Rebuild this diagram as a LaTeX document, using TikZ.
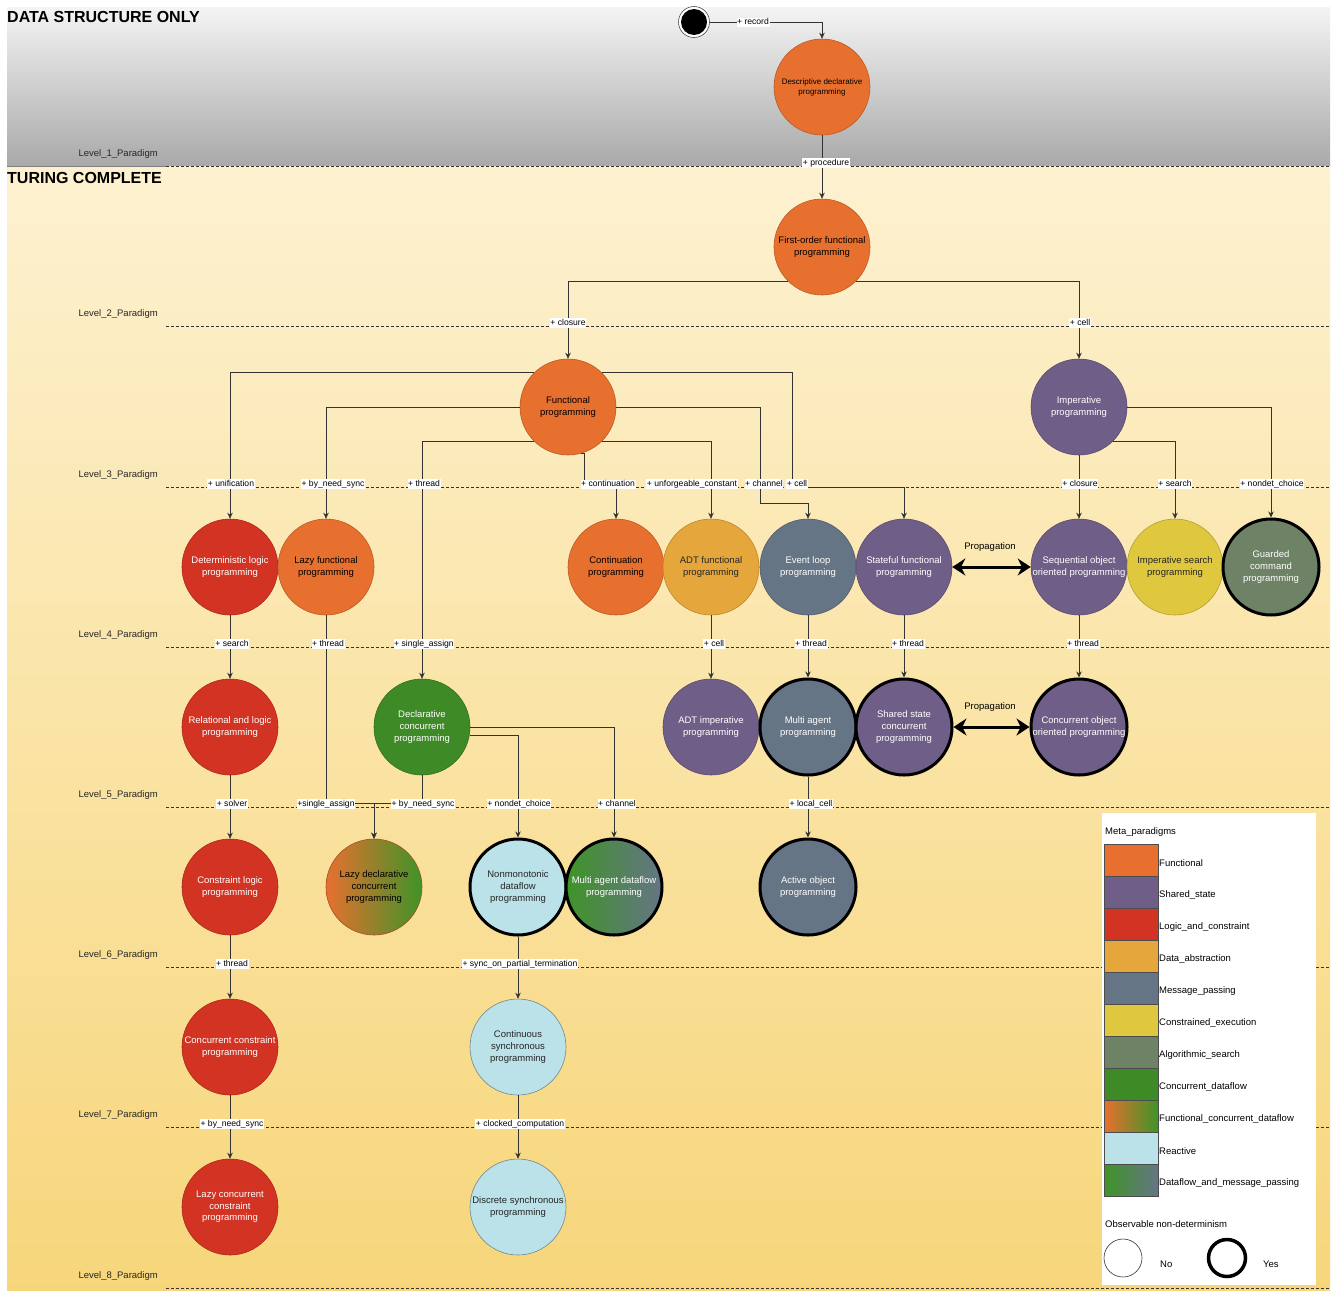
\documentclass[tikz,border=0pt]{standalone}
\usepackage{fontspec}
\setmainfont{Liberation Sans}
\usetikzlibrary{arrows.meta}
\definecolor{cfun}{HTML}{E7702F}
\definecolor{csha}{HTML}{6F5E87}
\definecolor{clog}{HTML}{D23322}
\definecolor{cdab}{HTML}{E5A73B}
\definecolor{cmsg}{HTML}{657585}
\definecolor{ccex}{HTML}{DFC83E}
\definecolor{calg}{HTML}{6E8366}
\definecolor{ccdf}{HTML}{3E8A26}
\definecolor{cgrn}{HTML}{3F9428}
\definecolor{crea}{HTML}{BAE2E8}
\definecolor{cgrayT}{HTML}{F4F4F4}
\definecolor{cgrayB}{HTML}{A9A9A9}
\definecolor{cyelT}{HTML}{FDF1D0}
\definecolor{cyelB}{HTML}{F7D67B}
\definecolor{cline}{HTML}{333333}
\newcommand\nodefont{\fontsize{9.5}{11.6}\selectfont}
\newcommand\descfont{\fontsize{8}{10}\selectfont}
\newcommand\lblfont{\fontsize{8.6}{10}\selectfont}
\newcommand\titlefont{\bfseries\fontsize{16}{18}\selectfont}
\begin{document}
\begin{tikzpicture}[x=1pt,y=-1pt,
  pn/.style={circle, minimum size=96pt, inner sep=0pt, align=center, font=\nodefont, line width=0.6pt},
  fun/.style={fill=cfun, draw=cfun!80!black, text=black},
  sha/.style={fill=csha, draw=csha!80!black, text=white},
  log/.style={fill=clog, draw=clog!80!black, text=white},
  dab/.style={fill=cdab, draw=cdab!80!black, text=black!85},
  msg/.style={fill=cmsg, draw=cmsg!80!black, text=white},
  cex/.style={fill=ccex, draw=ccex!80!black, text=black!85},
  alg/.style={fill=calg, draw=calg!80!black, text=white},
  cdf/.style={fill=ccdf, draw=ccdf!80!black, text=white},
  rea/.style={fill=crea, draw=crea!60!black, text=black!85},
  fcd/.style={left color=cfun, right color=cgrn, draw=cfun!70!black, text=black},
  dmp/.style={left color=cgrn, right color=cmsg, text=white},
  yes/.style={draw=black, line width=3pt},
  conn/.style={draw=cline, line width=0.75pt, -{Stealth[length=6pt,width=5.5pt]}},
  prop/.style={draw=black, line width=3pt, {Stealth[length=13pt,width=17pt]}-{Stealth[length=13pt,width=17pt]}},
  elab/.style={fill=white, inner sep=0.6pt, font=\lblfont, text=black, text height=6.3pt, text depth=1.8pt},
  lvl/.style={draw=cline, line width=0.6pt, dash pattern=on 3pt off 2pt},
  lvllab/.style={anchor=east, font=\nodefont, text=black!85, inner sep=0pt},
  leg/.style={anchor=west, font=\nodefont, text=black, inner sep=1pt},
]
\useasboundingbox (0,0) rectangle (1338,1293);
\fill[white] (0,0) rectangle (1338,1293);
\shade[top color=cgrayT, bottom color=cgrayB] (7,7) rectangle (1330,166);
\shade[top color=cyelT, bottom color=cyelB] (7,166) rectangle (1330,1290);
\draw[gray, line width=0.6pt] (7,166) -- (166,166);

% titles
\node[anchor=west, font=\titlefont, inner sep=0pt] (t1) at (7,17) {DATA STRUCTURE ONLY};
\node[anchor=west, font=\titlefont, inner sep=0pt] (t2) at (7,178) {TURING COMPLETE};

% level lines
\foreach \yy/\n in {166/1,326/2,487/3,647/4,807/5,967/6,1127/7,1288/8}{
  \draw[lvl] (166,\yy) -- (1330,\yy);
  \node[lvllab] (lvl\n) at (158,\yy-11.5) {Level\_\n\_Paradigm};
}

% start node
\node[circle, draw=black!70, line width=0.6pt, fill=white, minimum size=31pt, inner sep=0pt] (start) at (694,22) {};
\fill[black] (start.center) circle (13pt);

% paradigm nodes
\node[pn,fun,font=\descfont] (desc) at (822,87) {Descriptive declarative\\programming};
\node[pn,fun] (fo) at (822,247) {First-order functional\\programming};
\node[pn,fun] (func) at (568,407) {Functional\\programming};
\node[pn,sha] (imp) at (1079,407) {Imperative\\programming};
\node[pn,log] (detl) at (230,567) {Deterministic logic\\programming};
\node[pn,fun] (lazyf) at (326,567) {Lazy functional\\programming};
\node[pn,fun] (cont) at (616,567) {Continuation\\programming};
\node[pn,dab] (adtf) at (711,567) {ADT functional\\programming};
\node[pn,msg] (evl) at (808,567) {Event loop\\programming};
\node[pn,sha] (stf) at (904,567) {Stateful functional\\programming};
\node[pn,sha] (seqoo) at (1079,567) {Sequential object\\oriented programming};
\node[pn,cex] (isrch) at (1175,567) {Imperative search\\programming};
\node[pn,alg,yes] (guard) at (1271,567) {Guarded\\command\\programming};
\node[pn,log] (rel) at (230,727) {Relational and logic\\programming};
\node[pn,cdf] (declc) at (422,727) {Declarative\\concurrent\\programming};
\node[pn,sha] (adti) at (711,727) {ADT imperative\\programming};
\node[pn,msg,yes] (magent) at (808,727) {Multi agent\\programming};
\node[pn,sha,yes] (ssc) at (904,727) {Shared state\\concurrent\\programming};
\node[pn,sha,yes] (coo) at (1079,727) {Concurrent object\\oriented programming};
\node[pn,log] (clp) at (230,887) {Constraint logic\\programming};
\node[pn,fcd] (lazyd) at (374,887) {Lazy declarative\\concurrent\\programming};
\node[pn,rea,yes] (nonmono) at (518,887) {Nonmonotonic\\dataflow\\programming};
\node[pn,dmp,yes] (madf) at (614,887) {Multi agent dataflow\\programming};
\node[pn,msg,yes] (actobj) at (808,887) {Active object\\programming};
\node[pn,log] (ccp) at (230,1047) {Concurrent constraint\\programming};
\node[pn,rea] (csync) at (518,1047) {Continuous\\synchronous\\programming};
\node[pn,log] (lccp) at (230,1207) {Lazy concurrent\\constraint\\programming};
\node[pn,rea] (dsync) at (518,1207) {Discrete synchronous\\programming};

% bend coordinates
\coordinate (bcont) at (584,487);
\coordinate (bevl) at (760,503);
\coordinate (bstf) at (792,487);
\coordinate (j1) at (374,803);

% connectors
\draw[conn] (start.east) -| (desc.north);
\draw[conn] (desc.south) -- (fo.north);
\draw[conn] (fo.-135) -| (func.north);
\draw[conn] (fo.-45) -| (imp.north);
\draw[conn] (func.135) -| (detl.north);
\draw[conn] (func.west) -| (lazyf.north);
\draw[conn] (func.-135) -| (declc.north);
\draw[conn] (func.-75) -| (bcont) -| (cont.north);
\draw[conn] (func.-45) -| (adtf.north);
\draw[conn] (func.east) -| (bevl) -| (evl.north);
\draw[conn] (func.45) -| (bstf) -| (stf.north);
\draw[conn] (imp.south) -- (seqoo.north);
\draw[conn] (imp.-45) -| (isrch.north);
\draw[conn] (imp.east) -| (guard.north);
\draw[conn] (detl.south) -- (rel.north);
\draw[conn] (lazyf.south) |- (j1) -- (lazyd.north);
\draw[conn] (adtf.south) -- (adti.north);
\draw[conn] (evl.south) -- (magent.north);
\draw[conn] (stf.south) -- (ssc.north);
\draw[conn] (seqoo.south) -- (coo.north);
\draw[prop] (stf.east) -- (seqoo.west);
\draw[prop] (ssc.east) -- (coo.west);
\draw[conn] (rel.south) -- (clp.north);
\draw[conn] (declc.south) |- (j1) -- (lazyd.north);
\draw[conn] (declc.-10) -| (nonmono.north);
\draw[conn] (declc.east) -| (madf.north);
\draw[conn] (magent.south) -- (actobj.north);
\draw[conn] (clp.south) -- (ccp.north);
\draw[conn] (nonmono.south) -- (csync.north);
\draw[conn] (ccp.south) -- (lccp.north);
\draw[conn] (csync.south) -- (dsync.north);

% connector labels
\node[elab] (e1) at (753,22.5) {+ record};
\node[elab] (e2) at (826,163) {+ procedure};
\node[elab] (e3) at (568,323) {+ closure};
\node[elab] (e4) at (1080,323) {+ cell};
\node[elab] (e5) at (231,484) {+ unification};
\node[elab] (e6) at (333,484) {+ by\_need\_sync};
\node[elab] (e7) at (424,484) {+ thread};
\node[elab] (e8) at (608,484.5) {+ continuation};
\node[elab] (e9) at (692,484) {+ unforgeable\_constant};
\node[elab] (e10) at (764,484) {+ channel};
\node[elab] (e11) at (797,484) {+ cell};
\node[elab] (e12) at (1080,484) {+ closure};
\node[elab] (e13) at (1175,484) {+ search};
\node[elab] (e14) at (1272,484) {+ nondet\_choice};
\node[elab] (e15) at (232,644) {+ search};
\node[elab] (e16) at (328,644) {+ thread};
\node[elab] (e17) at (424,644) {+ single\_assign};
\node[elab] (e18) at (714,644) {+ cell};
\node[elab] (e19) at (811,644) {+ thread};
\node[elab] (e20) at (908,644) {+ thread};
\node[elab] (e21) at (1083,644) {+ thread};
\node[elab] (e22) at (232,804) {+ solver};
\node[elab] (e23) at (326,804) {+single\_assign};
\node[elab] (e24) at (423,804) {+ by\_need\_sync};
\node[elab] (e25) at (519,804) {+ nondet\_choice};
\node[elab] (e26) at (617,804) {+ channel};
\node[elab] (e27) at (811,804) {+ local\_cell};
\node[elab] (e28) at (232,964) {+ thread};
\node[elab] (e29) at (520,964) {+ sync\_on\_partial\_termination};
\node[elab] (e30) at (232,1124) {+ by\_need\_sync};
\node[elab] (e31) at (520,1124) {+ clocked\_computation};
\node[font=\nodefont, inner sep=0pt] (p1) at (990,547) {Propagation};
\node[font=\nodefont, inner sep=0pt] (p2) at (990,707) {Propagation};

% legend
\fill[white] (1102,813) rectangle (1316,1285);
\node[leg] (lg0) at (1104,832) {Meta\_paradigms};
\foreach \i/\c/\t in {0/cfun/Functional,1/csha/Shared\_state,2/clog/Logic\_and\_constraint,3/cdab/Data\_abstraction,4/cmsg/Message\_passing,5/ccex/Constrained\_execution,6/calg/Algorithmic\_search,7/ccdf/Concurrent\_dataflow,9/crea/Reactive}{
  \fill[\c] (1104,844+32*\i) rectangle (1158,876+32*\i);
}
\shade[left color=cfun, right color=cgrn] (1104,1100) rectangle (1158,1132);
\shade[left color=cgrn, right color=cmsg] (1104,1164) rectangle (1158,1196);
\foreach \i/\t in {0/Functional,1/Shared\_state,2/Logic\_and\_constraint,3/Data\_abstraction,4/Message\_passing,5/Constrained\_execution,6/Algorithmic\_search,7/Concurrent\_dataflow,8/Functional\_concurrent\_dataflow,9/Reactive,10/Dataflow\_and\_message\_passing}{
  \draw[black!70, line width=0.6pt] (1104,844+32*\i) rectangle (1158,876+32*\i);
  \node[leg] (lgt\i) at (1158,863+32*\i) {\t};
}
\node[leg] (lgo) at (1104,1224) {Observable non-determinism};
\node[circle, draw=black!80, line width=0.6pt, minimum size=38pt, inner sep=0pt] (lgno) at (1123,1258) {};
\node[circle, draw=black, line width=3.5pt, minimum size=37pt, inner sep=0pt] (lgyes) at (1227,1258) {};
\node[leg] (lgnot) at (1159,1264) {No};
\node[leg] (lgyest) at (1262,1264) {Yes};
\end{tikzpicture}
\end{document}
